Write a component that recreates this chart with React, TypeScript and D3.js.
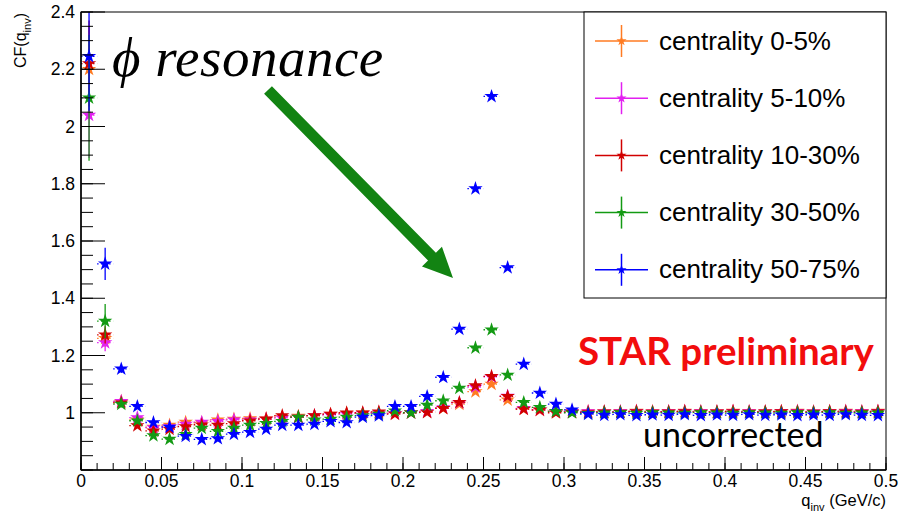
import React from "react";
import * as d3 from "d3";

// ---------- data ----------
const qBins = [
  0.005, 0.015, 0.025, 0.035, 0.045, 0.055, 0.065, 0.075, 0.085, 0.095,
  0.105, 0.115, 0.125, 0.135, 0.145, 0.155, 0.165, 0.175, 0.185, 0.195,
  0.205, 0.215, 0.225, 0.235, 0.245, 0.255, 0.265, 0.275, 0.285, 0.295,
  0.305, 0.315, 0.325, 0.335, 0.345, 0.355, 0.365, 0.375, 0.385, 0.395,
  0.405, 0.415, 0.425, 0.435, 0.445, 0.455, 0.465, 0.475, 0.485, 0.495,
];

const seriesNames = [
  "centrality 0-5%",
  "centrality 5-10%",
  "centrality 10-30%",
  "centrality 30-50%",
  "centrality 50-75%",
];
const seriesColors = ["#ff7b22", "#e21ff0", "#d10000", "#139a13", "#0000ff"];

const cf0to5 = [
  2.2, 1.26, 1.04, 0.975, 0.95, 0.957, 0.967, 0.965, 0.975, 0.978,
  0.98, 0.98, 0.985, 0.988, 0.99, 0.995, 0.998, 1.0, 1.0, 0.998,
  1.0, 1.003, 1.015, 1.03, 1.074, 1.1, 1.045, 1.013, 1.008, 1.005,
  1.004, 1.005, 1.003, 1.004, 1.006, 1.005, 1.004, 1.006, 1.005, 1.004,
  1.006, 1.005, 1.004, 1.005, 1.006, 1.004, 1.005, 1.006, 1.005, 1.006,
];
const cf5to10 = [
  2.04, 1.245, 1.04, 0.983, 0.948, 0.952, 0.96, 0.967, 0.97, 0.975,
  0.975, 0.978, 0.982, 0.985, 0.99, 0.993, 0.995, 0.998, 1.0, 0.998,
  1.0, 1.005, 1.018, 1.035, 1.09, 1.125, 1.058, 1.015, 1.01, 1.005,
  1.003, 1.004, 1.003, 1.004, 1.005, 1.003, 1.004, 1.005, 1.004, 1.003,
  1.005, 1.004, 1.003, 1.004, 1.005, 1.003, 1.004, 1.005, 1.004, 1.005,
];
const cf10to30 = [
  2.22, 1.272, 1.035, 0.955, 0.937, 0.943, 0.952, 0.958, 0.957, 0.962,
  0.972, 0.978, 0.99, 0.985, 0.99, 0.995, 1.0, 1.0, 1.003, 0.995,
  1.0, 1.001, 1.015, 1.036, 1.095, 1.127, 1.057, 1.013, 1.01, 1.0,
  1.002, 1.001, 1.003, 1.002, 1.004, 1.002, 1.003, 1.004, 1.002, 1.003,
  1.004, 1.002, 1.003, 1.004, 1.003, 1.002, 1.004, 1.003, 1.002, 1.004,
];
const cf30to50 = [
  2.1, 1.32, 1.03, 0.972, 0.92, 0.908, 0.925, 0.946, 0.935, 0.946,
  0.957, 0.963, 0.97, 0.985, 0.975, 0.978, 0.985, 0.99, 0.995, 1.007,
  1.0, 1.027, 1.042, 1.086, 1.227, 1.29, 1.132, 1.036, 1.019, 1.005,
  1.0, 0.998, 1.0, 1.001, 0.999, 1.001, 1.0, 0.999, 1.001, 1.0,
  0.999, 1.001, 1.0, 0.999, 1.001, 1.0, 1.001, 0.999, 1.0, 1.0,
];
const cf50to75 = [
  2.245, 1.52, 1.153, 1.022, 0.966, 0.95, 0.918, 0.907, 0.91, 0.925,
  0.932, 0.943, 0.957, 0.957, 0.96, 0.97, 0.966, 0.985, 0.99, 1.022,
  1.022, 1.057, 1.124, 1.292, 1.783, 2.105, 1.507, 1.17, 1.069, 1.03,
  1.01, 0.995, 0.992, 0.994, 0.991, 0.993, 0.992, 0.994, 0.991, 0.993,
  0.992, 0.994, 0.992, 0.993, 0.991, 0.993, 0.992, 0.994, 0.992, 0.991,
];

// errors on first three bins, the rest small
const errHead0to5 = [0.15, 0.03, 0.01];
const errHead5to10 = [0.15, 0.03, 0.01];
const errHead10to30 = [0.15, 0.03, 0.01];
const errHead30to50 = [0.22, 0.06, 0.012];
const errHead50to75 = [0.19, 0.056, 0.014];
const errTail = 0.004;

const xMajorTicks = [0, 0.05, 0.1, 0.15, 0.2, 0.25, 0.3, 0.35, 0.4, 0.45, 0.5];
const xTickLabels = ["0", "0.05", "0.1", "0.15", "0.2", "0.25", "0.3", "0.35", "0.4", "0.45", "0.5"];
const yMajorTicks = [1, 1.2, 1.4, 1.6, 1.8, 2, 2.2, 2.4];
const yTickLabels = ["1", "1.2", "1.4", "1.6", "1.8", "2", "2.2", "2.4"];

const seriesValues = [cf0to5, cf5to10, cf10to30, cf30to50, cf50to75];
const seriesErrHead = [errHead0to5, errHead5to10, errHead10to30, errHead30to50, errHead50to75];

// ---------- layout ----------
const W = 900;
const H = 515;
const L = 81;
const R = 886;
const T = 12;
const B = 470;

export default function App() {
  const x = d3.scaleLinear().domain([0, 0.5]).range([L, R]);
  const y = d3.scaleLinear().domain([0.8, 2.4]).range([B, T]);
  const star = d3.symbol().type(d3.symbolStar).size(64)();
  const starSmall = d3.symbol().type(d3.symbolStar).size(32)();
  const xMinor = d3.range(0, 51).map((i) => i * 0.01);
  const yMinor = d3.range(0, 33).map((i) => 0.8 + i * 0.05);
  const halfBin = 0.005;

  const fontSans = "'Liberation Sans', Arial, Helvetica, sans-serif";

  // arrow geometry
  const ax0 = 268, ay0 = 90, ax1 = 453, ay1 = 278;
  const aLen = Math.hypot(ax1 - ax0, ay1 - ay0);
  const aAng = (Math.atan2(ay1 - ay0, ax1 - ax0) * 180) / Math.PI;
  const headL = 30, headW = 14, shaftW = 5.5;
  const arrowPts = [
    [0, -shaftW], [aLen - headL, -shaftW], [aLen - headL, -headW], [aLen, 0],
    [aLen - headL, headW], [aLen - headL, shaftW], [0, shaftW],
  ].map((p) => p.join(",")).join(" ");

  return (
    <svg width={W} height={H} style={{ position: "absolute", left: 0, top: 0, background: "#fff" }}>
      <defs>
        <clipPath id="plotClip">
          <rect x={L} y={T} width={R - L} height={B - T} />
        </clipPath>
      </defs>
      <rect x={0} y={0} width={W} height={H} fill="#fff" />

      {/* data */}
      <g clipPath="url(#plotClip)">
        {seriesValues.map((vals, si) => (
          <g key={si}>
            {vals.map((v, i) => {
              const q = qBins[i];
              const e = i < 3 ? seriesErrHead[si][i] : errTail;
              const cx = x(q);
              const cy = y(v);
              return (
                <g key={i}>
                  <line x1={x(q - halfBin)} x2={x(q + halfBin)} y1={cy} y2={cy}
                    stroke={seriesColors[si]} strokeWidth={1.3} strokeDasharray="1.5,2.5" />
                  <line x1={cx} x2={cx} y1={y(v + e)} y2={y(v - e)}
                    stroke={seriesColors[si]} strokeWidth={1.3} />
                  <path d={star} transform={`translate(${cx},${cy})`} fill={seriesColors[si]} />
                </g>
              );
            })}
          </g>
        ))}
      </g>

      {/* frame */}
      <rect x={L} y={T} width={R - L} height={B - T} fill="none" stroke="#000" strokeWidth={1} />
      <line x1={L} x2={L} y1={T} y2={B} stroke="#000" strokeWidth={1.5} />
      <line x1={L} x2={R} y1={B} y2={B} stroke="#000" strokeWidth={1.5} />

      {/* x ticks */}
      {xMinor.map((t, i) => (
        <line key={"xm" + i} x1={x(t)} x2={x(t)} y1={B} y2={B - 7} stroke="#000" strokeWidth={1} />
      ))}
      {xMajorTicks.map((t, i) => (
        <g key={"xM" + i}>
          <line x1={x(t)} x2={x(t)} y1={B} y2={B - 13} stroke="#000" strokeWidth={1} />
          <text x={x(t)} y={487} textAnchor="middle" fontFamily={fontSans} fontSize={17.5} fill="#000">
            {xTickLabels[i]}
          </text>
        </g>
      ))}

      {/* y ticks */}
      {yMinor.map((t, i) => (
        <line key={"ym" + i} x1={L} x2={L + 12} y1={y(t)} y2={y(t)} stroke="#000" strokeWidth={1} />
      ))}
      {yMajorTicks.map((t, i) => (
        <g key={"yM" + i}>
          <line x1={L} x2={L + 24} y1={y(t)} y2={y(t)} stroke="#000" strokeWidth={1} />
          <text x={75} y={y(t) + 6} textAnchor="end" fontFamily={fontSans} fontSize={17.5} fill="#000">
            {yTickLabels[i]}
          </text>
        </g>
      ))}

      {/* axis titles */}
      <text transform="translate(26,13) rotate(-90)" textAnchor="end" fontFamily={fontSans} fontSize={16} fill="#000">
        CF(q<tspan fontSize={11} dy={5}>inv</tspan><tspan dy={-5}>)</tspan>
      </text>
      <text x={886} y={506} textAnchor="end" fontFamily={fontSans} fontSize={16.5} fill="#000">
        q<tspan fontSize={11} dy={5}>inv</tspan><tspan dy={-5}> (GeV/c)</tspan>
      </text>

      {/* annotations */}
      <text x={112} y={76} fontFamily="'Liberation Serif', 'DejaVu Serif', serif" fontStyle="italic" fontSize={55} letterSpacing={0.5} fill="#000">
        ϕ resonance
      </text>
      <g transform={`translate(${ax0},${ay0}) rotate(${aAng})`}>
        <polygon points={arrowPts} fill="#128312" />
      </g>
      <text x={578} y={365} fontFamily="Lato, 'Open Sans', sans-serif" fontWeight={700} fontSize={38.5} fill="#f20d0d">
        STAR preliminary
      </text>
      <text x={643} y={447} fontFamily="Lato, 'Open Sans', sans-serif" fontSize={34} fill="#000">
        uncorrected
      </text>

      {/* legend */}
      <rect x={584} y={T} width={R - 584} height={298 - T} fill="#fff" stroke="#000" strokeWidth={1} />
      {seriesNames.map((name, i) => {
        const cy = 41 + i * 57.2;
        return (
          <g key={"lg" + i}>
            <line x1={595} x2={648} y1={cy} y2={cy} stroke={seriesColors[i]} strokeWidth={1.5} />
            <line x1={621.5} x2={621.5} y1={cy - 16} y2={cy + 16} stroke={seriesColors[i]} strokeWidth={1.5} />
            <path d={starSmall} transform={`translate(621.5,${cy})`} fill={seriesColors[i]} />
            <text x={659} y={cy + 8.5} fontFamily={fontSans} fontSize={26} fill="#000">
              {name}
            </text>
          </g>
        );
      })}
    </svg>
  );
}
